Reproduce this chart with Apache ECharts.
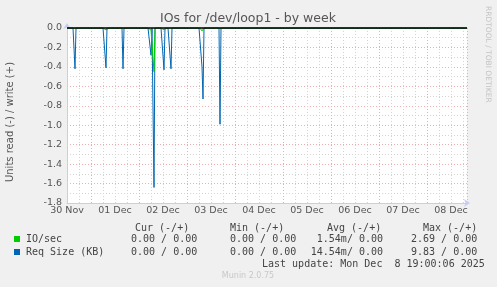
<!DOCTYPE html>
<html>
<head>
<meta charset="utf-8">
<script src="https://cdn.jsdelivr.net/npm/echarts@6/dist/echarts.min.js"></script>
<style>
html,body{margin:0;padding:0;background:#f0f0f0;}
#chart{width:497px;height:287px;}
</style>
</head>
<body>
<div id="chart"></div>
<script>
// ---- data (hours counted from 30 Nov 00:00) ----
const dayLabels = ['30 Nov','01 Dec','02 Dec','03 Dec','04 Dec','05 Dec','06 Dec','07 Dec','08 Dec'];
const spikeHours   = [16, 31.5, 40, 54, 55.5, 60.5, 64, 79.5, 80, 88.5];
const reqSizeRead  = [-0.42, -0.41, -0.42, -0.28, -1.64, -0.43, -0.42, -0.40, -0.73, -0.99];
const ioRead       = [-0.02, -0.02, -0.02, -0.02, -0.45, -0.02, -0.02, -0.03, -0.02, -0.02];
const rangeStart = 12, rangeEnd = 212, step = 0.5;

const legendNames = ['IO/sec', 'Req Size (KB)'];
const legendColors = ['#00cc00', '#0066b3'];
const colHeaders = ['Cur (-/+)', 'Min (-/+)', 'Avg (-/+)', 'Max (-/+)'];
const curValues = ['0.00 / 0.00', '0.00 / 0.00'];
const minValues = ['0.00 / 0.00', '0.00 / 0.00'];
const avgValues = ['1.54m/ 0.00', '14.54m/ 0.00'];
const maxValues = ['2.69 / 0.00', '9.83 / 0.00'];
const lastUpdate = 'Last update: Mon Dec  8 19:00:06 2025';

function buildSeries(vals) {
  const m = {};
  spikeHours.forEach((h, i) => { m[h] = vals[i]; });
  const out = [];
  for (let t = rangeStart; t <= rangeEnd + 1e-9; t += step) {
    out.push([t, m[t] !== undefined ? m[t] : 0]);
  }
  return out;
}

const chart = echarts.init(document.getElementById('chart'), null, {renderer: 'canvas'});
const mono = '10px "DejaVu Sans Mono"';
const txtCol = '#444';
const graphics = [];
function t(x, y, text, font, fill, extra) {
  graphics.push(Object.assign({type: 'text', x: x, y: y, silent: true,
    style: {text: text, font: font, fill: fill, align: 'left', verticalAlign: 'middle'}}, extra || {}));
}
t(248, 19, 'IOs for /dev/loop1 - by week', '12.5px "DejaVu Sans"', '#555');
graphics[graphics.length-1].style.align = 'center';
t(10, 122, 'Units read (-) / write (+)', '10px "DejaVu Sans"', '#555', {rotation: Math.PI/2});
graphics[graphics.length-1].style.align = 'center';
t(488, 6, 'RRDTOOL / TOBI OETIKER', '7.5px "DejaVu Sans"', '#c4c4c4', {rotation: -Math.PI/2});
const colX = [135, 230, 327, 423];
colHeaders.forEach((h, i) => t(colX[i], 228, h, mono, txtCol));
const rowY = [239, 252];
legendNames.forEach((n, i) => {
  graphics.push({type: 'rect', silent: true, shape: {x: 14, y: rowY[i] - 3, width: 6, height: 6}, style: {fill: legendColors[i]}});
  t(26, rowY[i], n, mono, txtCol);
  t(131, rowY[i], curValues[i], mono, txtCol);
  t(230, rowY[i], minValues[i], mono, txtCol);
  t(383, rowY[i], avgValues[i], mono, txtCol);
  graphics[graphics.length-1].style.align = 'right';
  t(411, rowY[i], maxValues[i], mono, txtCol);
});
t(262, 264, lastUpdate, mono, txtCol);
t(248, 276, 'Munin 2.0.75', '8px "DejaVu Sans"', '#c8c8c8');
graphics[graphics.length-1].style.align = 'center';

const gray = '#d4d4d4', red = '#e8b0b0';
const option = {
  backgroundColor: '#f0f0f0',
  animation: false,
  grid: {left: 67, right: 30, top: 28, bottom: 84, show: true, backgroundColor: '#ffffff', borderWidth: 0},
  xAxis: {
    type: 'value', min: rangeStart, max: rangeEnd, interval: 6,
    axisLine: {onZero: false, lineStyle: {color: '#c8ccf4', width: 1}, symbol: ['none', 'arrow'], symbolSize: [6, 6], symbolOffset: [0, 3]},
    axisTick: {show: false},
    axisLabel: {
      margin: 3, color: '#555', fontFamily: 'DejaVu Sans', fontSize: 9.5,
      showMinLabel: true, showMaxLabel: true,
      formatter: v => ((v - rangeStart) % 24 === 0) ? (dayLabels[(v - rangeStart) / 24] || '') : ''
    },
    splitLine: {show: true, lineStyle: {color: [gray, gray, red, gray], type: [1, 2], width: 1}}
  },
  yAxis: {
    type: 'value', min: -1.8, max: 0, interval: 0.2,
    axisLine: {show: true, onZero: false, lineStyle: {color: '#c8ccf4', width: 1}, symbol: ['none', 'arrow'], symbolSize: [6, 6], symbolOffset: [0, 5]},
    axisTick: {show: false},
    minorTick: {show: false, splitNumber: 2},
    minorSplitLine: {show: true, lineStyle: {color: gray, type: [1, 2], width: 1}},
    splitLine: {show: true, lineStyle: {color: red, type: [1, 2], width: 1}},
    axisLabel: {margin: 5, color: '#555', fontFamily: 'DejaVu Sans', fontSize: 9.5, formatter: v => v.toFixed(1)}
  },
  series: [
    {type: 'line', name: legendNames[1], data: buildSeries(reqSizeRead), showSymbol: false, symbol: 'none',
     lineStyle: {color: legendColors[1], width: 1}, z: 3},
    {type: 'line', name: legendNames[0], data: buildSeries(ioRead), showSymbol: false, symbol: 'none',
     lineStyle: {color: legendColors[0], width: 1}, z: 4,
     markLine: {silent: true, symbol: ['none', 'none'], label: {show: false},
       lineStyle: {color: '#000', width: 1.5, type: 'solid'}, data: [{yAxis: 0}]}}
  ],
  graphic: graphics
};
chart.setOption(option);
</script>
</body>
</html>
